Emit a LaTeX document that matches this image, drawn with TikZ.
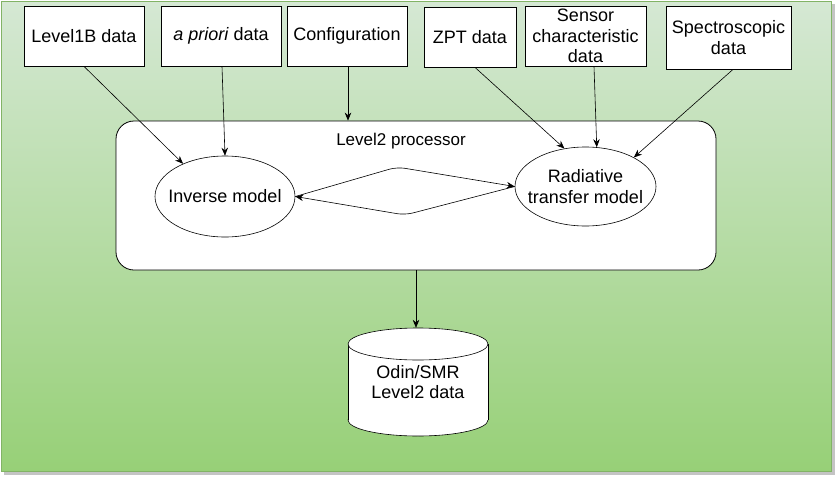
\documentclass[tikz,border=0pt]{standalone}
\usepackage{fontspec}
\setmainfont{Liberation Sans}
\usetikzlibrary{shapes.geometric,arrows.meta}
\definecolor{bgtop}{HTML}{D5E8D4}
\definecolor{bgbot}{HTML}{97D077}
\definecolor{bgedge}{HTML}{82B366}
\definecolor{shadowgray}{HTML}{C4C4C4}
\begin{document}
\begin{tikzpicture}[x=1pt,y=-1pt,
  lbl/.style={font=\fontsize{18}{20.5}\selectfont, align=center},
  srcbox/.style={lbl, draw=black, fill=white, line width=0.8pt, inner sep=0pt},
  ell/.style={ellipse, draw=black, fill=white, line width=0.6pt, inner sep=0pt},
  arr/.style={-{Stealth[length=8pt,width=6.5pt]}, line width=0.6pt}]
\useasboundingbox (0,0) rectangle (836,477);
% background
\fill[shadowgray] (4,4) rectangle (835,475);
\shade[top color=bgtop, bottom color=bgbot] (1,1) rectangle (831,471);
\draw[bgedge, line width=0.8pt] (1,1) rectangle (831,471);
% source boxes
\node[srcbox, minimum width=120pt, minimum height=60pt] (l1b) at (84,36) {Level1B data};
\node[srcbox, minimum width=120pt, minimum height=60pt] (apr) at (221,36) {\textit{a priori} data};
\node[srcbox, minimum width=120pt, minimum height=60pt] (conf) at (347,36) {Configuration};
\node[srcbox, minimum width=92pt, minimum height=60pt] (zpt) at (470,37) {ZPT data};
\node[srcbox, minimum width=121pt, minimum height=60pt] (sens) at (585.5,36) {Sensor\\characteristic\\data};
\node[srcbox, minimum width=125pt, minimum height=63pt] (spec) at (728.5,37.5) {Spectroscopic\\data};
% processor
\node[draw=black, fill=white, line width=0.8pt, rounded corners=18pt, minimum width=600pt, minimum height=149pt, inner sep=0pt] (proc) at (416,195.5) {};
\node[font=\fontsize{17}{19}\selectfont] (proclbl) at (401,141) {Level2 processor};
\node[ell, minimum width=140pt, minimum height=81pt] (inv) at (225,196.5) {};
\node[lbl] (invtxt) at (inv.center) {Inverse model};
\node[ell, minimum width=141pt, minimum height=79pt] (rad) at (585.5,186.5) {};
\node[lbl] (radtxt) at (rad.center) {Radiative\\transfer model};
% inputs
\draw[arr] (l1b.south) -- (inv.142.5);
\draw[arr] ([xshift=1pt]apr.south) -- (inv.90);
\draw[arr] ([xshift=1pt]conf.south) -- ([xshift=1pt]conf.south |- proc.north);
\draw[arr] ([xshift=5pt]zpt.south) -- (rad.119.7);
\draw[arr] ([xshift=8.5pt]sens.south) -- (rad.74.7);
\draw[arr] ([xshift=4.5pt]spec.south) -- (rad.31.1);
% loop between models
\coordinate (up) at (397,167);
\coordinate (dn) at (405,215);
\draw[arr, rounded corners=8pt] (inv.east) -- (up) -- (rad.west);
\draw[arr, rounded corners=8pt] (rad.west) -- (dn) -- (inv.east);
% database cylinder
\fill[white] (418,420) ellipse[x radius=70pt, y radius=16pt];
\draw[line width=0.6pt] (418,420) ellipse[x radius=70pt, y radius=16pt];
\fill[white] (348,344) rectangle (488,420);
\draw[line width=0.6pt] (348,344) -- (348,420);
\draw[line width=0.6pt] (488,344) -- (488,420);
\filldraw[fill=white, draw=black, line width=0.6pt] (418,344) ellipse[x radius=70pt, y radius=16pt];
\node[lbl, minimum width=140pt, minimum height=108pt, inner sep=0pt] (db) at (418,382) {Odin/SMR\\Level2 data};
\draw[arr] (proc.south) -- (proc.south |- db.north);
\end{tikzpicture}
\end{document}
